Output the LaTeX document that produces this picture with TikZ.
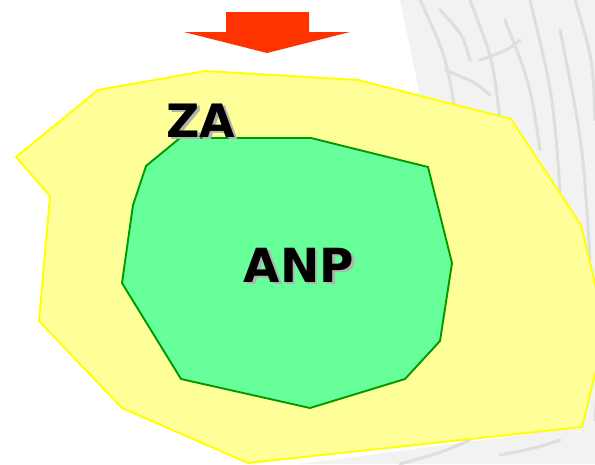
\documentclass[tikz,border=0pt]{standalone}
\usepackage{fontspec}
\setmainfont{DejaVu Sans}
\newcommand{\shadowed}[1]{\makebox[0pt][l]{\kern2.5pt\raisebox{-2.5pt}{\color{black!30}#1}}#1}
\begin{document}
\begin{tikzpicture}[x=1pt,y=-1pt,
  zone/.style={fill=zafill,draw=zaline,line width=1.9pt,line join=miter},
  park/.style={fill=anpfill,draw=anpline,line width=1.9pt,line join=miter},
  bigtext/.style={font=\bfseries\fontsize{46}{46}\selectfont,inner sep=0pt,anchor=base},
  sketch/.style={draw=black!13,line width=3pt,line cap=round}]
\definecolor{zafill}{HTML}{FFFF99}
\definecolor{zaline}{HTML}{FFFF00}
\definecolor{anpfill}{HTML}{66FF99}
\definecolor{anpline}{HTML}{009900}
\definecolor{arrowred}{HTML}{FF3300}
\useasboundingbox (0,0) rectangle (595,464);
\clip (0,0) rectangle (595,464);
\fill[white] (0,0) rectangle (595,464);
% faint background sketch
\fill[black!5] (400,0) -- (595,0) -- (595,464) -- (300,464) -- (582,427) -- (606,330) -- (581,225) -- (510,118) -- (420,95) -- cycle;
\foreach \a/\b/\c/\d in {420/0/455/110, 440/10/470/60, 470/0/500/120, 505/20/540/150, 530/0/560/190, 560/30/590/260, 575/0/595/120, 480/60/520/40, 445/70/490/95, 590/280/595/420, 400/464/470/440, 500/455/560/440}
  \draw[sketch] (\a,\b) .. controls ({(\a+\c)/2+8},{(\b+\d)/2}) .. (\c,\d);
% arrow
\fill[arrowred] (226,12) -- (309,12) -- (309,32) -- (350,32) -- (267,53) -- (184,32) -- (226,32) -- cycle;
% zone ZA
\draw[zone] (16,157) -- (98,90) -- (205,71) -- (358,80) -- (511,119) -- (581,225) -- (606,330) -- (582,427) -- (248,463) -- (122,408) -- (39,321) -- (50,196) -- cycle;
% park ANP
\draw[park] (180,138) -- (311,138) -- (428,167) -- (452,263) -- (440,341) -- (405,379) -- (310,408) -- (181,379) -- (122,283) -- (133,205) -- (146,166) -- cycle;
% labels
\node[bigtext] (za) at (201,137) {\shadowed{ZA}};
\node[bigtext,font=\bfseries\fontsize{47}{47}\selectfont] (anp) at (299,282) {\shadowed{ANP}};
\end{tikzpicture}
\end{document}
